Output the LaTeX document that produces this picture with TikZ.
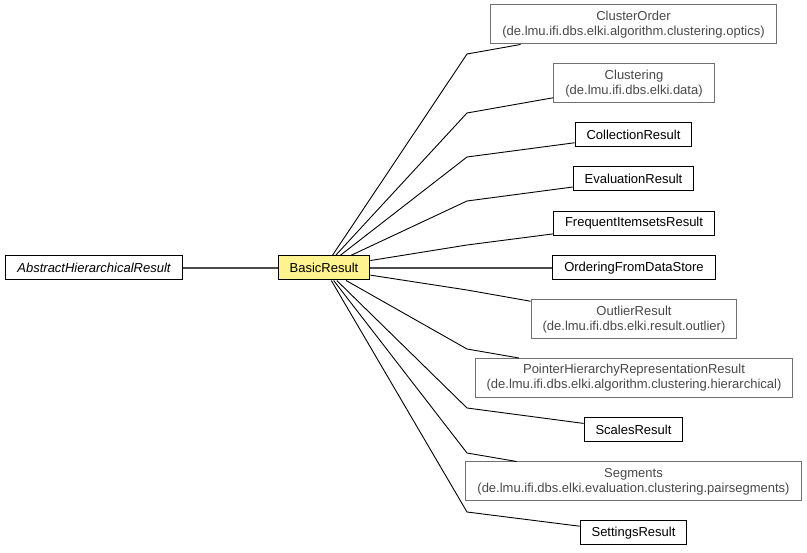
\documentclass[tikz,border=0pt]{standalone}
\usepackage{fontspec}
\setmainfont{Liberation Sans}
\usetikzlibrary{positioning}
\definecolor{noteyellow}{RGB}{255,243,143}
\definecolor{pkggray}{RGB}{112,112,112}
\definecolor{pkgtext}{RGB}{72,72,72}
\tikzset{
  cls/.style={draw=black, line width=1pt, minimum height=24pt, inner xsep=11.5pt, inner ysep=2pt, font=\fontsize{13}{15}\selectfont},
  extcls/.style={cls, draw=pkggray, text=pkgtext, align=center, minimum height=39pt},
  link/.style={draw=black, line width=0.9pt},
  mainlink/.style={draw=black!70, line width=1.4pt}
}

\begin{document}
\begin{tikzpicture}[x=1pt,y=-1pt]
	\useasboundingbox (0,0) rectangle (807,553);
	% left side
	\node[cls, font={\fontsize{13}{15}\selectfont\itshape}] (abstract) at (94,268) {AbstractHierarchicalResult};
	\node[cls, fill=noteyellow] (basic) at (324,268) {BasicResult};
	% right side
	\node[extcls] (clusterorder) at (633.5,24.5) {ClusterOrder\\(de.lmu.ifi.dbs.elki.algorithm.clustering.optics)};
	\node[extcls] (clustering) at (634,83.5) {Clustering\\(de.lmu.ifi.dbs.elki.data)};
	\node[cls] (collection) at (633.5,135) {CollectionResult};
	\node[cls] (evaluation) at (633.5,179) {EvaluationResult};
	\node[cls] (frequent) at (634,223.5) {FrequentItemsetsResult};
	\node[cls] (ordering) at (634,268) {OrderingFromDataStore};
	\node[extcls] (outlier) at (634,319.5) {OutlierResult\\(de.lmu.ifi.dbs.elki.result.outlier)};
	\node[extcls] (pointer) at (634,378) {PointerHierarchyRepresentationResult\\(de.lmu.ifi.dbs.elki.algorithm.clustering.hierarchical)};
	\node[cls] (scales) at (633.5,430) {ScalesResult};
	\node[extcls] (segments) at (633.5,481.5) {Segments\\(de.lmu.ifi.dbs.elki.evaluation.clustering.pairsegments)};
	\node[cls] (settings) at (633.5,533) {SettingsResult};
	% bends
	\coordinate (bclusterorder) at (467,54);
	\coordinate (bclustering) at (467,113);
	\coordinate (bcollection) at (467,157);
	\coordinate (bevaluation) at (467,201);
	\coordinate (bfrequent) at (467,245);
	\coordinate (boutlier) at (467,290);
	\coordinate (bpointer) at (467,349);
	\coordinate (bscales) at (467,408);
	\coordinate (bsegments) at (467,453);
	\coordinate (bsettings) at (467,512);
	% links
	\draw[mainlink] (abstract) -- (basic);
	\draw[mainlink] (basic) -- (ordering);
	\draw[link] (basic) -- (bclusterorder) -- (clusterorder);
	\draw[link] (basic) -- (bclustering) -- (clustering);
	\draw[link] (basic) -- (bcollection) -- (collection);
	\draw[link] (basic) -- (bevaluation) -- (evaluation);
	\draw[link] (basic) -- (bfrequent) -- (frequent);
	\draw[link] (basic) -- (boutlier) -- (outlier);
	\draw[link] (basic) -- (bpointer) -- (pointer);
	\draw[link] (basic) -- (bscales) -- (scales);
	\draw[link] (basic) -- (bsegments) -- (segments);
	\draw[link] (basic) -- (bsettings) -- (settings);
\end{tikzpicture}
\end{document}
